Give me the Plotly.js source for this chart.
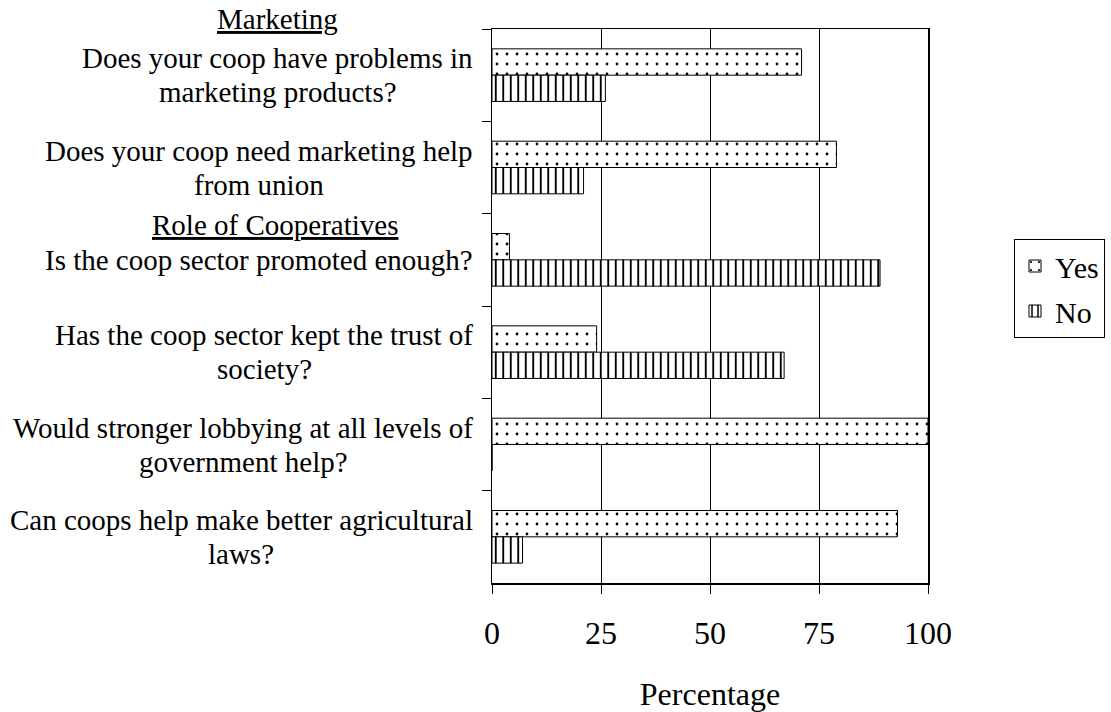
<!DOCTYPE html>
<html>
<head>
<meta charset="utf-8">
<script src="https://cdn.plot.ly/plotly-3.0.1.min.js"></script>
<style>html,body{margin:0;padding:0;background:#fff;}#chart{width:1111px;height:712px;}</style>
</head>
<body>
<div id="chart"></div>
<script>
var categories = [
  "Does your coop have problems in<br>marketing products?",
  "Does your coop need marketing help<br>from union",
  "Is the coop sector promoted enough?",
  "Has the coop sector kept the trust of<br>society?",
  "Would stronger lobbying at all levels of<br>government help?",
  "Can coops help make better agricultural<br>laws?"
];
var yesValues = [71, 79, 4, 24, 100, 93];
var noValues = [26, 21, 89, 67, 0, 7];
var seriesNames = ["Yes", "No"];
var xTicks = [0, 25, 50, 75, 100];
var sectionHeaders = ["Marketing", "Role of Cooperatives"];

var FONT = "Liberation Serif";

var traces = [
  {
    type: "bar", orientation: "h", name: seriesNames[0], legendgroup: "g1",
    y: categories, x: yesValues,
    marker: {color: "white", line: {color: "black", width: 1},
      pattern: {shape: ".", fgcolor: "black", bgcolor: "white", size: 10, solidity: 0.06}},
    hoverinfo: "x"
  },
  {
    type: "bar", orientation: "h", name: seriesNames[1], legendgroup: "g2",
    y: categories, x: noValues,
    marker: {color: "white", line: {color: "black", width: 1},
      pattern: {shape: "|", fgcolor: "black", bgcolor: "white", size: 7.5, solidity: 0.25}},
    hoverinfo: "x"
  }
];

var labelFont = {family: FONT, size: 29, color: "black"};
var LINE_GAP = 34;

var annotations = [];
categories.forEach(function (c) {
  var lines = c.split("<br>");
  var n = lines.length;
  lines.forEach(function (line, i) {
    annotations.push({
      text: line, xref: "paper", yref: "y", x: 0, y: c,
      xanchor: "center", yanchor: "middle",
      xshift: -19 - 0, yshift: ((n - 1) / 2 - i) * LINE_GAP,
      showarrow: false, font: labelFont, _group: c
    });
  });
});

var layout = {
  width: 1111, height: 712,
  margin: {l: 492, r: 183, t: 29, b: 129, pad: 0, autoexpand: false},
  paper_bgcolor: "white", plot_bgcolor: "white",
  barmode: "group", bargap: 0.43, bargroupgap: 0,
  font: {family: FONT, color: "black", size: 29},
  showlegend: true,
  legend: {
    x: (1014 - 492) / 436, y: (583 - 239) / 554, xanchor: "left", yanchor: "top",
    bgcolor: "white", bordercolor: "black", borderwidth: 1,
    font: {family: FONT, size: 30, color: "black"}, traceorder: "grouped", tracegroupgap: 3
  },
  xaxis: {
    range: [0, 100], tickvals: xTicks, ticktext: xTicks.map(String),
    showgrid: true, gridcolor: "black", gridwidth: 1,
    zeroline: false, showline: true, linecolor: "black", linewidth: 1.5, mirror: true,
    ticks: "outside", ticklen: 9, tickcolor: "black", tickwidth: 1,
    ticklabelstandoff: 12,
    tickfont: {family: FONT, size: 32, color: "black"},
    title: {text: "Percentage", font: {family: FONT, size: 32, color: "black"}, standoff: 34},
    fixedrange: true
  },
  yaxis: {
    type: "category", range: [5.5, -0.5],
    showgrid: false, zeroline: false, showline: true, linecolor: "black", linewidth: 1.5, mirror: true,
    ticks: "outside", ticklen: 9, tickcolor: "black", tickwidth: 1, tickson: "boundaries",
    showticklabels: false, fixedrange: true
  }
};

// Multi-line category labels: centre every line under the widest line of its label,
// whose right edge sits just left of the axis (as in the reference).
function measure(text, font) {
  var ctx = measure.ctx || (measure.ctx = document.createElement("canvas").getContext("2d"));
  ctx.font = font.size + "px '" + font.family + "'";
  return ctx.measureText(text).width;
}
var widest = {};
annotations.forEach(function (a) {
  var w = measure(a.text, a.font);
  widest[a._group] = Math.max(widest[a._group] || 0, w);
});
annotations.forEach(function (a) {
  a.xshift = -19 - widest[a._group] / 2;
  delete a._group;
});

annotations.push({
  text: "<u>" + sectionHeaders[0] + "</u>", xref: "paper", yref: "paper",
  x: (277 - 492) / 436, y: (583 - 19) / 554, xanchor: "center", yanchor: "middle",
  showarrow: false, font: labelFont
});
annotations.push({
  text: "<u>" + sectionHeaders[1] + "</u>", xref: "paper", yref: "paper",
  x: (275 - 492) / 436, y: (583 - 225) / 554, xanchor: "center", yanchor: "middle",
  showarrow: false, font: labelFont
});
layout.annotations = annotations;

Plotly.newPlot("chart", traces, layout, {staticPlot: true, displayModeBar: false});
</script>
</body>
</html>
